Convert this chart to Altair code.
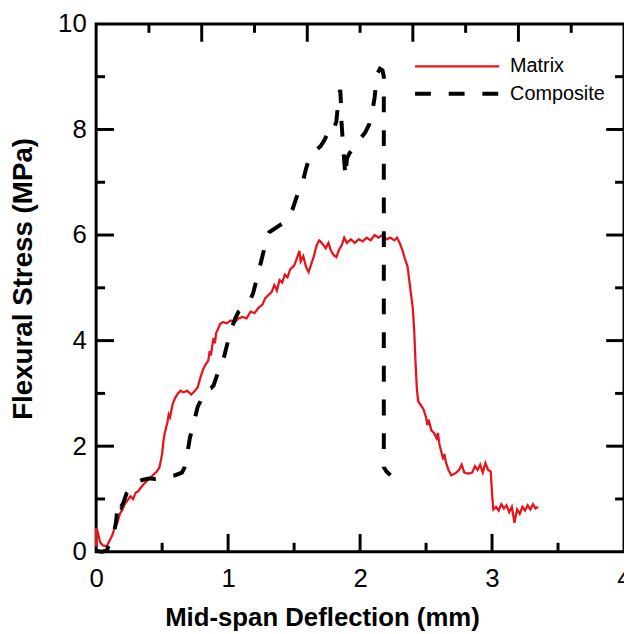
import altair as alt
import pandas as pd

# ---------------- data ----------------
matrix_x = [0.00, 0.00, 0.01, 0.03, 0.05, 0.08, 0.10, 0.12, 0.14, 0.16, 0.18, 0.20, 0.22, 0.24,
            0.26, 0.28, 0.30, 0.32, 0.34, 0.36, 0.38, 0.40, 0.43, 0.46, 0.48, 0.50, 0.51, 0.52,
            0.54, 0.55, 0.56, 0.58, 0.60, 0.62, 0.64, 0.66, 0.69, 0.72, 0.75, 0.77, 0.79, 0.81,
            0.83, 0.85, 0.86, 0.87, 0.88, 0.89, 0.90, 0.91, 0.92, 0.94, 0.96, 0.99, 1.02, 1.05,
            1.08, 1.11, 1.14, 1.17, 1.20, 1.23, 1.26, 1.28, 1.30, 1.33, 1.35, 1.37, 1.39, 1.41,
            1.43, 1.45, 1.47, 1.50, 1.52, 1.54, 1.55, 1.57, 1.59, 1.61, 1.63, 1.65, 1.67, 1.69,
            1.71, 1.74, 1.76, 1.78, 1.80, 1.82, 1.84, 1.86, 1.88, 1.90, 1.93, 1.96, 1.99, 2.02,
            2.05, 2.08, 2.11, 2.14, 2.17, 2.20, 2.23, 2.26, 2.28, 2.30, 2.32, 2.34, 2.36, 2.38,
            2.40, 2.41, 2.42, 2.43, 2.44, 2.46, 2.48, 2.50, 2.51, 2.52, 2.54, 2.56, 2.58, 2.59,
            2.60, 2.62, 2.63, 2.64, 2.65, 2.67, 2.69, 2.72, 2.75, 2.77, 2.79, 2.82, 2.85, 2.87,
            2.89, 2.91, 2.93, 2.95, 2.97, 2.99, 3.00, 3.01, 3.03, 3.05, 3.07, 3.09, 3.11, 3.13,
            3.15, 3.17, 3.18, 3.19, 3.21, 3.23, 3.25, 3.27, 3.29, 3.31, 3.33, 3.35]
matrix_y = [0.10, 0.45, 0.40, 0.18, 0.12, 0.10, 0.20, 0.30, 0.45, 0.55, 0.72, 0.80, 0.92, 0.98,
            1.05, 1.00, 1.12, 1.15, 1.22, 1.28, 1.33, 1.38, 1.45, 1.52, 1.60, 1.85, 2.10, 2.25,
            2.45, 2.60, 2.55, 2.80, 2.92, 3.00, 3.05, 3.02, 3.05, 2.98, 3.05, 3.12, 3.30, 3.45,
            3.55, 3.62, 3.80, 3.72, 3.90, 4.05, 3.95, 4.15, 4.20, 4.32, 4.35, 4.33, 4.38, 4.35,
            4.42, 4.45, 4.42, 4.55, 4.52, 4.62, 4.68, 4.80, 4.85, 4.92, 5.05, 4.95, 5.15, 5.10,
            5.25, 5.20, 5.35, 5.42, 5.55, 5.70, 5.50, 5.60, 5.40, 5.30, 5.45, 5.60, 5.80, 5.90,
            5.85, 5.75, 5.85, 5.70, 5.62, 5.58, 5.72, 5.80, 5.95, 5.85, 5.92, 5.85, 5.92, 5.88,
            5.95, 5.90, 6.00, 5.95, 6.00, 5.92, 5.95, 5.90, 5.95, 5.85, 5.72, 5.55, 5.40, 5.00,
            4.60, 4.20, 3.60, 3.10, 2.85, 2.78, 2.70, 2.55, 2.40, 2.50, 2.30, 2.25, 2.15, 2.25,
            2.05, 1.85, 1.75, 1.85, 1.70, 1.55, 1.45, 1.48, 1.55, 1.65, 1.50, 1.48, 1.50, 1.62,
            1.55, 1.65, 1.50, 1.68, 1.55, 1.52, 1.10, 0.80, 0.85, 0.78, 0.90, 0.82, 0.88, 0.75,
            0.85, 0.55, 0.68, 0.80, 0.72, 0.85, 0.78, 0.88, 0.80, 0.90, 0.82, 0.85]

comp_x = [0.00, 0.04, 0.08, 0.10, 0.12, 0.14, 0.15, 0.16, 0.17, 0.19, 0.21, 0.23, 0.25, 0.28,
          0.31, 0.35, 0.40, 0.45, 0.50, 0.55, 0.60, 0.65, 0.67, 0.69, 0.71, 0.73, 0.75, 0.77,
          0.79, 0.81, 0.84, 0.87, 0.89, 0.91, 0.93, 0.95, 0.97, 0.99, 1.01, 1.03, 1.05, 1.08,
          1.11, 1.14, 1.17, 1.19, 1.21, 1.23, 1.25, 1.27, 1.29, 1.31, 1.34, 1.37, 1.40, 1.43,
          1.46, 1.49, 1.51, 1.53, 1.55, 1.57, 1.59, 1.61, 1.64, 1.67, 1.70, 1.73, 1.76, 1.78,
          1.80, 1.82, 1.83, 1.84, 1.85, 1.855, 1.86, 1.87, 1.88, 1.89, 1.90, 1.92, 1.95, 1.98,
          2.01, 2.04, 2.07, 2.09, 2.11, 2.12, 2.13, 2.15, 2.17, 2.18, 2.18, 2.18, 2.18, 2.18,
          2.20, 2.23]
comp_y = [0.02, 0.00, 0.02, 0.15, 0.30, 0.42, 0.55, 0.80, 0.95, 0.85, 0.95, 1.10, 1.15, 1.25,
          1.32, 1.36, 1.39, 1.38, 1.40, 1.43, 1.45, 1.50, 1.60, 1.85, 2.15, 2.35, 2.55, 2.75,
          2.85, 3.00, 3.08, 3.10, 3.15, 3.30, 3.45, 3.55, 3.70, 3.90, 4.10, 4.25, 4.40, 4.55,
          4.62, 4.70, 4.78, 4.90, 5.10, 5.30, 5.50, 5.70, 5.95, 6.05, 6.10, 6.15, 6.20, 6.25,
          6.35, 6.50, 6.65, 6.80, 6.95, 7.05, 7.25, 7.42, 7.55, 7.62, 7.68, 7.80, 7.95, 8.05,
          8.00, 8.15, 8.40, 8.65, 8.75, 8.50, 8.10, 7.75, 7.40, 7.10, 7.45, 7.55, 7.65, 7.75,
          7.85, 7.95, 8.10, 8.30, 8.60, 8.85, 9.05, 9.15, 9.12, 9.00, 7.00, 5.00, 3.00, 1.60,
          1.52, 1.45]

series_names = ["Matrix", "Composite"]
series_colors = ["#e8141c", "#000000"]

x_label_values = [0, 1, 2, 3, 4]
y_label_values = [0, 2, 4, 6, 8, 10]
x_bottom_major = [1, 2, 3]
x_bottom_minor = [0.5, 1.5, 2.5, 3.5]
x_top_major = [0.8, 1.6, 2.4, 3.2]
x_top_minor = [0.4, 1.2, 2.0, 2.8, 3.6]
y_major = [2, 4, 6, 8]
y_minor = [1, 3, 5, 7, 9]

# ---------------- build ----------------
rows = []
for k, (x, y) in enumerate(zip(matrix_x, matrix_y)):
    rows.append({"x": x, "y": y, "series": "Matrix", "i": k})
for k, (x, y) in enumerate(zip(comp_x, comp_y)):
    rows.append({"x": x, "y": y, "series": "Composite", "i": k})
df = pd.DataFrame(rows)

W, H = 533, 533
FONT = "Liberation Sans"
MAJ, MIN = 18, 9

xs = alt.Scale(domain=[0, 4], nice=False, zero=False)
ys = alt.Scale(domain=[0, 10], nice=False, zero=False)

x_axis = alt.Axis(
    values=x_label_values, format="d", labelFontSize=26, labelPadding=14,
    labelFlush=False, title="Mid-span Deflection (mm)", titleFontSize=26,
    titleFontWeight="bold", titleX=228, titleY=74, titleBaseline="alphabetic")
y_axis = alt.Axis(
    values=y_label_values, format="d", labelFontSize=26, labelPadding=10,
    labelFlush=False, title="Flexural Stress (MPa)", titleFontSize=28,
    titleFontWeight="bold", titleX=-65, titleY=257, titleBaseline="alphabetic")

legend = alt.Legend(
    title=None, orient="none", legendX=354, legendY=33,
    symbolType="M-5,0H5", symbolSize=289,
    labelFont=FONT, labelFontSize=20, labelColor="black",
    labelOffset=43, rowPadding=7, padding=0,
)

lines = alt.Chart(df).mark_line(strokeCap="butt", strokeJoin="miter").encode(
    x=alt.X("x:Q", scale=xs, axis=x_axis),
    y=alt.Y("y:Q", scale=ys, axis=y_axis),
    color=alt.Color("series:N", scale=alt.Scale(domain=series_names, range=series_colors), legend=legend),
    strokeDash=alt.StrokeDash("series:N", scale=alt.Scale(domain=series_names, range=[[1, 0], [16, 18]]), legend=legend),
    strokeWidth=alt.StrokeWidth("series:N", scale=alt.Scale(domain=series_names, range=[2.3, 4]), legend=legend),
    order="i:Q",
)


def xticks(vals, y0, y1):
    return alt.Chart(pd.DataFrame({"x": vals})).mark_rule(color="black", strokeWidth=3).encode(
        x=alt.X("x:Q", scale=xs, axis=x_axis), y=alt.value(y0), y2=alt.value(y1))


def yticks(vals, x0, x1):
    return alt.Chart(pd.DataFrame({"y": vals})).mark_rule(color="black", strokeWidth=3).encode(
        y=alt.Y("y:Q", scale=ys, axis=y_axis), x=alt.value(x0), x2=alt.value(x1))


ticks = [
    xticks(x_bottom_major, H, H - MAJ), xticks(x_bottom_minor, H, H - MIN),
    xticks(x_top_major, 0, MAJ), xticks(x_top_minor, 0, MIN),
    yticks(y_major, 0, MAJ), yticks(y_minor, 0, MIN),
    yticks(y_major, W, W - MAJ), yticks(y_minor, W, W - MIN),
]

chart = alt.layer(lines, *ticks).properties(
    width=W, height=H,
    autosize=alt.AutoSizeParams(type="none"),
    padding={"left": 89, "top": 13, "right": 0, "bottom": 80},
).configure_view(stroke="black", strokeWidth=3).configure_axis(
    grid=False, domain=False, ticks=False, labelFont=FONT, titleFont=FONT,
    labelColor="black", titleColor="black",
)

chart.save("out.html", embed_options={"renderer": "svg", "actions": False})
